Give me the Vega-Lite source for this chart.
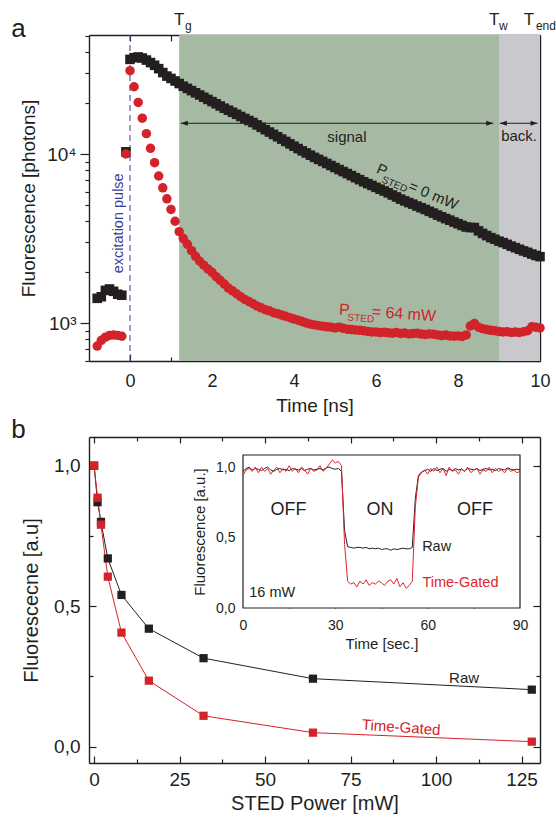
{
"$schema": "https://vega.github.io/schema/vega-lite/v6.json",
"autosize": "none",
"padding": {"left": 89, "top": 35, "right": 16, "bottom": 54},
"background": "white",
"width": 451,
"height": 728,
"config": {
  "font": "Liberation Sans",
  "view": {"stroke": null},
  "text": {"font": "Liberation Sans", "color": "#231f20"},
  "axis": {"grid": false, "domain": false, "domainColor": "#231f20", "domainWidth": 1.4, "tickColor": "#231f20", "tickWidth": 1.2, "labelColor": "#231f20", "titleColor": "#231f20", "labelFont": "Liberation Sans", "titleFont": "Liberation Sans", "titleFontWeight": "normal", "labelFlush": false, "labelOverlap": false, "zindex": 1}
},
"datasets": {
  "blackA": [
    {"t":-0.8,"v":1400},{"t":-0.7,"v":1430},{"t":-0.6,"v":1560},{"t":-0.5,"v":1590},{"t":-0.4,"v":1540},{"t":-0.3,"v":1480},{"t":-0.2,"v":1460},{"t":-0.1,"v":10300},
    {"t":0,"v":36300},{"t":0.1,"v":37150},{"t":0.2,"v":37500},{"t":0.3,"v":36980},{"t":0.4,"v":35980},{"t":0.5,"v":34750},{"t":0.6,"v":33500},{"t":0.7,"v":31990},{"t":0.8,"v":30340},{"t":0.9,"v":28900},
    {"t":1,"v":27990},{"t":1.1,"v":27040},{"t":1.2,"v":26120},{"t":1.3,"v":25180},{"t":1.4,"v":24430},{"t":1.5,"v":23710},{"t":1.6,"v":23010},{"t":1.7,"v":22340},{"t":1.8,"v":21680},{"t":1.9,"v":21040},
    {"t":2,"v":20420},{"t":2.1,"v":19820},{"t":2.2,"v":19230},{"t":2.3,"v":18660},{"t":2.4,"v":18160},{"t":2.5,"v":17660},{"t":2.6,"v":17180},{"t":2.7,"v":16670},{"t":2.8,"v":16220},{"t":2.9,"v":15780},
    {"t":3,"v":15350},{"t":3.1,"v":14860},{"t":3.2,"v":14390},{"t":3.3,"v":13930},{"t":3.4,"v":13490},{"t":3.5,"v":13060},{"t":3.6,"v":12650},{"t":3.7,"v":12250},{"t":3.8,"v":11860},{"t":3.9,"v":11480},
    {"t":4,"v":11120},{"t":4.1,"v":10770},{"t":4.2,"v":10440},{"t":4.3,"v":10140},{"t":4.4,"v":9840},{"t":4.5,"v":9550},{"t":4.6,"v":9290},{"t":4.7,"v":9040},{"t":4.8,"v":8790},{"t":4.9,"v":8550},
    {"t":5,"v":8320},{"t":5.1,"v":8090},{"t":5.2,"v":7870},{"t":5.3,"v":7660},{"t":5.4,"v":7450},{"t":5.5,"v":7240},{"t":5.6,"v":7050},{"t":5.7,"v":6850},{"t":5.8,"v":6680},{"t":5.9,"v":6520},
    {"t":6,"v":6350},{"t":6.1,"v":6190},{"t":6.2,"v":6040},{"t":6.3,"v":5890},{"t":6.4,"v":5720},{"t":6.5,"v":5570},{"t":6.6,"v":5410},{"t":6.7,"v":5280},{"t":6.8,"v":5160},{"t":6.9,"v":5050},
    {"t":7,"v":4920},{"t":7.1,"v":4810},{"t":7.2,"v":4700},{"t":7.3,"v":4580},{"t":7.4,"v":4470},{"t":7.5,"v":4350},{"t":7.6,"v":4250},{"t":7.7,"v":4150},{"t":7.8,"v":4060},{"t":7.9,"v":3960},
    {"t":8,"v":3870},{"t":8.1,"v":3780},{"t":8.2,"v":3700},{"t":8.3,"v":3670},{"t":8.4,"v":3670},{"t":8.5,"v":3510},{"t":8.6,"v":3390},{"t":8.7,"v":3290},{"t":8.8,"v":3200},{"t":8.9,"v":3130},
    {"t":9,"v":3050},{"t":9.1,"v":2990},{"t":9.2,"v":2920},{"t":9.3,"v":2850},{"t":9.4,"v":2790},{"t":9.5,"v":2730},{"t":9.6,"v":2670},{"t":9.7,"v":2620},{"t":9.8,"v":2560},{"t":9.9,"v":2510},{"t":10,"v":2470}
  ],
  "redA": [
    {"t":-0.8,"v":730},{"t":-0.7,"v":790},{"t":-0.6,"v":825},{"t":-0.5,"v":845},{"t":-0.4,"v":850},{"t":-0.3,"v":845},{"t":-0.2,"v":835},{"t":-0.1,"v":10000},
    {"t":0,"v":31100},{"t":0.1,"v":25000},{"t":0.2,"v":20200},{"t":0.3,"v":16300},{"t":0.4,"v":13200},{"t":0.5,"v":10800},{"t":0.6,"v":8890},{"t":0.7,"v":7410},{"t":0.8,"v":6310},{"t":0.9,"v":5430},
    {"t":1,"v":4700},{"t":1.1,"v":4000},{"t":1.2,"v":3470},{"t":1.3,"v":3160},{"t":1.4,"v":2920},{"t":1.5,"v":2680},{"t":1.6,"v":2480},{"t":1.7,"v":2320},{"t":1.8,"v":2200},{"t":1.9,"v":2090},
    {"t":2,"v":1995},{"t":2.1,"v":1880},{"t":2.2,"v":1790},{"t":2.3,"v":1700},{"t":2.4,"v":1610},{"t":2.5,"v":1550},{"t":2.6,"v":1490},{"t":2.7,"v":1430},{"t":2.8,"v":1380},{"t":2.9,"v":1340},
    {"t":3,"v":1300},{"t":3.1,"v":1260},{"t":3.2,"v":1230},{"t":3.3,"v":1200},{"t":3.4,"v":1180},{"t":3.5,"v":1150},{"t":3.6,"v":1135},{"t":3.7,"v":1115},{"t":3.8,"v":1095},{"t":3.9,"v":1075},
    {"t":4,"v":1055},{"t":4.1,"v":1040},{"t":4.2,"v":1020},{"t":4.3,"v":1000},{"t":4.4,"v":985},{"t":4.5,"v":975},{"t":4.6,"v":965},{"t":4.7,"v":958},{"t":4.8,"v":950},{"t":4.9,"v":945},
    {"t":5,"v":935},{"t":5.1,"v":945},{"t":5.2,"v":930},{"t":5.3,"v":920},{"t":5.4,"v":915},{"t":5.5,"v":910},{"t":5.6,"v":905},{"t":5.7,"v":900},{"t":5.8,"v":892},{"t":5.9,"v":885},
    {"t":6,"v":885},{"t":6.1,"v":878},{"t":6.2,"v":882},{"t":6.3,"v":875},{"t":6.4,"v":870},{"t":6.5,"v":878},{"t":6.6,"v":868},{"t":6.7,"v":872},{"t":6.8,"v":862},{"t":6.9,"v":866},
    {"t":7,"v":870},{"t":7.1,"v":860},{"t":7.2,"v":855},{"t":7.3,"v":862},{"t":7.4,"v":858},{"t":7.5,"v":850},{"t":7.6,"v":843},{"t":7.7,"v":848},{"t":7.8,"v":838},{"t":7.9,"v":835},
    {"t":8,"v":838},{"t":8.1,"v":832},{"t":8.2,"v":850},{"t":8.3,"v":960},{"t":8.4,"v":995},{"t":8.5,"v":945},{"t":8.6,"v":925},{"t":8.7,"v":915},{"t":8.8,"v":905},{"t":8.9,"v":900},
    {"t":9,"v":890},{"t":9.1,"v":885},{"t":9.2,"v":888},{"t":9.3,"v":880},{"t":9.4,"v":884},{"t":9.5,"v":880},{"t":9.6,"v":888},{"t":9.7,"v":900},{"t":9.8,"v":950},{"t":9.9,"v":945},{"t":10,"v":935}
  ],
  "mainB": [
    {"p":0,"v":1.0,"s":"Raw"},{"p":1,"v":0.87,"s":"Raw"},{"p":2,"v":0.80,"s":"Raw"},{"p":4,"v":0.67,"s":"Raw"},{"p":8,"v":0.54,"s":"Raw"},{"p":16,"v":0.42,"s":"Raw"},{"p":32,"v":0.315,"s":"Raw"},{"p":64,"v":0.242,"s":"Raw"},{"p":128,"v":0.203,"s":"Raw"},
    {"p":0,"v":1.0,"s":"Time-Gated"},{"p":1,"v":0.886,"s":"Time-Gated"},{"p":2,"v":0.79,"s":"Time-Gated"},{"p":4,"v":0.605,"s":"Time-Gated"},{"p":8,"v":0.406,"s":"Time-Gated"},{"p":16,"v":0.235,"s":"Time-Gated"},{"p":32,"v":0.11,"s":"Time-Gated"},{"p":64,"v":0.05,"s":"Time-Gated"},{"p":128,"v":0.018,"s":"Time-Gated"}
  ],
  "inset": [
    {"t":0,"v":0.97,"s":"Raw"},{"t":1,"v":0.99,"s":"Raw"},{"t":2,"v":1.0,"s":"Raw"},{"t":3,"v":0.98,"s":"Raw"},{"t":4,"v":0.99,"s":"Raw"},{"t":5,"v":0.985,"s":"Raw"},{"t":6,"v":0.975,"s":"Raw"},{"t":7,"v":0.99,"s":"Raw"},{"t":8,"v":1.0,"s":"Raw"},{"t":9,"v":0.98,"s":"Raw"},
    {"t":10,"v":0.97,"s":"Raw"},{"t":11,"v":0.985,"s":"Raw"},{"t":12,"v":0.99,"s":"Raw"},{"t":13,"v":0.98,"s":"Raw"},{"t":14,"v":0.985,"s":"Raw"},{"t":15,"v":0.975,"s":"Raw"},{"t":16,"v":0.99,"s":"Raw"},{"t":17,"v":0.985,"s":"Raw"},{"t":18,"v":0.98,"s":"Raw"},{"t":19,"v":0.99,"s":"Raw"},
    {"t":20,"v":0.975,"s":"Raw"},{"t":21,"v":0.985,"s":"Raw"},{"t":22,"v":0.99,"s":"Raw"},{"t":23,"v":0.98,"s":"Raw"},{"t":24,"v":0.985,"s":"Raw"},{"t":25,"v":0.99,"s":"Raw"},{"t":26,"v":0.98,"s":"Raw"},{"t":27,"v":0.995,"s":"Raw"},{"t":28,"v":1.0,"s":"Raw"},{"t":29,"v":0.99,"s":"Raw"},
    {"t":30,"v":0.985,"s":"Raw"},{"t":31,"v":0.99,"s":"Raw"},{"t":32,"v":0.97,"s":"Raw"},{"t":33,"v":0.55,"s":"Raw"},{"t":34,"v":0.435,"s":"Raw"},{"t":35,"v":0.43,"s":"Raw"},{"t":36,"v":0.425,"s":"Raw"},{"t":37,"v":0.43,"s":"Raw"},{"t":38,"v":0.43,"s":"Raw"},{"t":39,"v":0.425,"s":"Raw"},
    {"t":40,"v":0.43,"s":"Raw"},{"t":41,"v":0.42,"s":"Raw"},{"t":42,"v":0.425,"s":"Raw"},{"t":43,"v":0.42,"s":"Raw"},{"t":44,"v":0.425,"s":"Raw"},{"t":45,"v":0.415,"s":"Raw"},{"t":46,"v":0.42,"s":"Raw"},{"t":47,"v":0.42,"s":"Raw"},{"t":48,"v":0.41,"s":"Raw"},{"t":49,"v":0.42,"s":"Raw"},
    {"t":50,"v":0.415,"s":"Raw"},{"t":51,"v":0.42,"s":"Raw"},{"t":52,"v":0.425,"s":"Raw"},{"t":53,"v":0.42,"s":"Raw"},{"t":54,"v":0.42,"s":"Raw"},{"t":55,"v":0.43,"s":"Raw"},{"t":56,"v":0.78,"s":"Raw"},{"t":57,"v":0.94,"s":"Raw"},{"t":58,"v":0.965,"s":"Raw"},{"t":59,"v":0.975,"s":"Raw"},
    {"t":60,"v":0.985,"s":"Raw"},{"t":61,"v":0.97,"s":"Raw"},{"t":62,"v":0.99,"s":"Raw"},{"t":63,"v":0.975,"s":"Raw"},{"t":64,"v":0.985,"s":"Raw"},{"t":65,"v":0.99,"s":"Raw"},{"t":66,"v":0.97,"s":"Raw"},{"t":67,"v":0.985,"s":"Raw"},{"t":68,"v":0.975,"s":"Raw"},{"t":69,"v":0.99,"s":"Raw"},
    {"t":70,"v":0.98,"s":"Raw"},{"t":71,"v":0.985,"s":"Raw"},{"t":72,"v":0.97,"s":"Raw"},{"t":73,"v":0.99,"s":"Raw"},{"t":74,"v":0.985,"s":"Raw"},{"t":75,"v":0.98,"s":"Raw"},{"t":76,"v":0.99,"s":"Raw"},{"t":77,"v":0.975,"s":"Raw"},{"t":78,"v":0.985,"s":"Raw"},{"t":79,"v":0.99,"s":"Raw"},
    {"t":80,"v":0.98,"s":"Raw"},{"t":81,"v":0.985,"s":"Raw"},{"t":82,"v":0.975,"s":"Raw"},{"t":83,"v":0.99,"s":"Raw"},{"t":84,"v":0.985,"s":"Raw"},{"t":85,"v":0.98,"s":"Raw"},{"t":86,"v":0.995,"s":"Raw"},{"t":87,"v":0.985,"s":"Raw"},{"t":88,"v":0.98,"s":"Raw"},{"t":89,"v":0.985,"s":"Raw"},{"t":90,"v":0.98,"s":"Raw"},
    {"t":0,"v":0.94,"s":"Time-Gated"},{"t":1,"v":0.98,"s":"Time-Gated"},{"t":2,"v":0.99,"s":"Time-Gated"},{"t":3,"v":0.97,"s":"Time-Gated"},{"t":4,"v":1.0,"s":"Time-Gated"},{"t":5,"v":0.96,"s":"Time-Gated"},{"t":6,"v":1.0,"s":"Time-Gated"},{"t":7,"v":0.97,"s":"Time-Gated"},{"t":8,"v":0.99,"s":"Time-Gated"},{"t":9,"v":0.95,"s":"Time-Gated"},
    {"t":10,"v":0.98,"s":"Time-Gated"},{"t":11,"v":1.0,"s":"Time-Gated"},{"t":12,"v":0.96,"s":"Time-Gated"},{"t":13,"v":0.99,"s":"Time-Gated"},{"t":14,"v":0.97,"s":"Time-Gated"},{"t":15,"v":1.01,"s":"Time-Gated"},{"t":16,"v":0.97,"s":"Time-Gated"},{"t":17,"v":0.99,"s":"Time-Gated"},{"t":18,"v":0.96,"s":"Time-Gated"},{"t":19,"v":1.0,"s":"Time-Gated"},
    {"t":20,"v":0.98,"s":"Time-Gated"},{"t":21,"v":0.95,"s":"Time-Gated"},{"t":22,"v":0.99,"s":"Time-Gated"},{"t":23,"v":0.97,"s":"Time-Gated"},{"t":24,"v":0.98,"s":"Time-Gated"},{"t":25,"v":1.01,"s":"Time-Gated"},{"t":26,"v":0.97,"s":"Time-Gated"},{"t":27,"v":0.99,"s":"Time-Gated"},{"t":28,"v":1.02,"s":"Time-Gated"},{"t":29,"v":1.05,"s":"Time-Gated"},
    {"t":30,"v":1.03,"s":"Time-Gated"},{"t":31,"v":1.04,"s":"Time-Gated"},{"t":32,"v":1.01,"s":"Time-Gated"},{"t":33,"v":0.45,"s":"Time-Gated"},{"t":34,"v":0.19,"s":"Time-Gated"},{"t":35,"v":0.17,"s":"Time-Gated"},{"t":36,"v":0.18,"s":"Time-Gated"},{"t":37,"v":0.15,"s":"Time-Gated"},{"t":38,"v":0.19,"s":"Time-Gated"},{"t":39,"v":0.17,"s":"Time-Gated"},
    {"t":40,"v":0.2,"s":"Time-Gated"},{"t":41,"v":0.16,"s":"Time-Gated"},{"t":42,"v":0.18,"s":"Time-Gated"},{"t":43,"v":0.17,"s":"Time-Gated"},{"t":44,"v":0.19,"s":"Time-Gated"},{"t":45,"v":0.18,"s":"Time-Gated"},{"t":46,"v":0.16,"s":"Time-Gated"},{"t":47,"v":0.19,"s":"Time-Gated"},{"t":48,"v":0.2,"s":"Time-Gated"},{"t":49,"v":0.17,"s":"Time-Gated"},
    {"t":50,"v":0.21,"s":"Time-Gated"},{"t":51,"v":0.15,"s":"Time-Gated"},{"t":52,"v":0.18,"s":"Time-Gated"},{"t":53,"v":0.14,"s":"Time-Gated"},{"t":54,"v":0.16,"s":"Time-Gated"},{"t":55,"v":0.19,"s":"Time-Gated"},{"t":56,"v":0.72,"s":"Time-Gated"},{"t":57,"v":0.93,"s":"Time-Gated"},{"t":58,"v":0.96,"s":"Time-Gated"},{"t":59,"v":0.98,"s":"Time-Gated"},
    {"t":60,"v":0.95,"s":"Time-Gated"},{"t":61,"v":0.99,"s":"Time-Gated"},{"t":62,"v":0.97,"s":"Time-Gated"},{"t":63,"v":1.0,"s":"Time-Gated"},{"t":64,"v":0.96,"s":"Time-Gated"},{"t":65,"v":0.99,"s":"Time-Gated"},{"t":66,"v":0.94,"s":"Time-Gated"},{"t":67,"v":1.0,"s":"Time-Gated"},{"t":68,"v":0.97,"s":"Time-Gated"},{"t":69,"v":0.98,"s":"Time-Gated"},
    {"t":70,"v":0.95,"s":"Time-Gated"},{"t":71,"v":0.99,"s":"Time-Gated"},{"t":72,"v":0.97,"s":"Time-Gated"},{"t":73,"v":1.0,"s":"Time-Gated"},{"t":74,"v":0.96,"s":"Time-Gated"},{"t":75,"v":0.98,"s":"Time-Gated"},{"t":76,"v":0.99,"s":"Time-Gated"},{"t":77,"v":0.95,"s":"Time-Gated"},{"t":78,"v":0.98,"s":"Time-Gated"},{"t":79,"v":0.97,"s":"Time-Gated"},
    {"t":80,"v":1.0,"s":"Time-Gated"},{"t":81,"v":0.96,"s":"Time-Gated"},{"t":82,"v":0.99,"s":"Time-Gated"},{"t":83,"v":0.97,"s":"Time-Gated"},{"t":84,"v":0.98,"s":"Time-Gated"},{"t":85,"v":0.96,"s":"Time-Gated"},{"t":86,"v":0.99,"s":"Time-Gated"},{"t":87,"v":0.97,"s":"Time-Gated"},{"t":88,"v":0.98,"s":"Time-Gated"},{"t":89,"v":0.96,"s":"Time-Gated"},{"t":90,"v":0.97,"s":"Time-Gated"}
  ]
},
"resolve": {"scale": {"x": "independent", "y": "independent", "color": "independent", "shape": "independent"}, "axis": {"x": "independent", "y": "independent"}},
"layer": [
    {
      "data": {"values": [{"t0":1.2,"t1":9,"lo":596,"hi":50600,"zone":"signal"},{"t0":9,"t1":10,"lo":596,"hi":50600,"zone":"back"}]},
      "mark": {"type": "rect"},
      "encoding": {
        "x": {"field": "t0", "type": "quantitative", "scale": {"domain": [-1, 10], "nice": false, "zero": false},
              "axis": {"orient": "bottom", "offset": -402, "values": [0,2,4,6,8,10], "ticks": false, "domain": true, "labelPadding": 11, "labelFontSize": 18, "title": "Time [ns]", "titleFontSize": 19, "titleY": 44, "titleBaseline": "middle"}},
        "x2": {"field": "t1"},
        "y": {"field": "lo", "type": "quantitative", "scale": {"type": "log", "domain": [596, 50600], "range": [326, 0], "nice": false}, "axis": null},
        "y2": {"field": "hi"},
        "color": {"field": "zone", "type": "nominal", "scale": {"domain": ["signal","back"], "range": ["#a6baa3","#c9c9cd"]}, "legend": null}
      }
    },
    {
      "data": {"values": [{"t":0,"lo":596,"hi":50600}]},
      "mark": {"type": "rule", "color": "#4b4ba6", "strokeWidth": 1.1, "strokeDash": [6,4]},
      "encoding": {
        "x": {"field": "t", "type": "quantitative", "scale": {"domain": [-1, 10], "nice": false, "zero": false},
              "axis": {"orient": "bottom", "offset": -402, "values": [0,2,4,6,8], "labels": false, "tickSize": -7, "title": null}},
        "y": {"field": "lo", "type": "quantitative", "scale": {"type": "log", "domain": [596, 50600], "range": [326, 0], "nice": false}, "axis": null},
        "y2": {"field": "hi"}
      }
    },
    {
      "data": {"values": [{"t0":1.24,"t1":8.86,"v":15200},{"t0":9.02,"t1":9.94,"v":15200}]},
      "mark": {"type": "rule", "color": "#231f20", "strokeWidth": 1},
      "encoding": {
        "x": {"field": "t0", "type": "quantitative", "scale": {"domain": [-1, 10], "nice": false, "zero": false},
              "axis": {"orient": "bottom", "offset": -402, "values": [1,3,5,7,9], "labels": false, "tickSize": -4, "title": null}},
        "x2": {"field": "t1"},
        "y": {"field": "v", "type": "quantitative", "scale": {"type": "log", "domain": [596, 50600], "range": [326, 0], "nice": false},
              "axis": {"orient": "left", "values": [1000, 10000], "tickSize": 9, "domain": true, "labelPadding": 4, "labelFontSize": 19, "labelExpr": "datum.value == 1000 ? '10³' : '10⁴'", "title": "Fluorescence [photons]", "titleFontSize": 19, "titleX": -61, "titleBaseline": "middle"}}
      }
    },
    {
      "data": {"values": [{"t":1.24,"v":15200,"dir":"L"},{"t":8.86,"v":15200,"dir":"R"},{"t":9.02,"v":15200,"dir":"L"},{"t":9.94,"v":15200,"dir":"R"}]},
      "mark": {"type": "point", "filled": true, "size": 49, "opacity": 1, "color": "#231f20"},
      "encoding": {
        "x": {"field": "t", "type": "quantitative", "scale": {"domain": [-1, 10], "nice": false, "zero": false},
              "axis": {"orient": "top", "values": [0,1,2,3,4,5,6,7,8,9], "labels": false, "tickSize": -6, "domain": true, "title": null}},
        "y": {"field": "v", "type": "quantitative", "scale": {"type": "log", "domain": [596, 50600], "range": [326, 0], "nice": false},
              "axis": {"orient": "left", "values": [600,700,800,900,2000,3000,4000,5000,6000,7000,8000,9000,20000,30000,40000,50000], "labels": false, "tickSize": 4, "title": null}},
        "shape": {"field": "dir", "type": "nominal", "scale": {"domain": ["L","R"], "range": ["M0,0L2,-0.7L2,0.7Z", "M0,0L-2,-0.7L-2,0.7Z"]}, "legend": null}
      }
    },
    {
      "data": {"name": "blackA"},
      "mark": {"type": "point", "shape": "square", "filled": true, "size": 92, "opacity": 1, "color": "#231f20"},
      "encoding": {
        "x": {"field": "t", "type": "quantitative", "scale": {"domain": [-1, 10], "nice": false, "zero": false}, "axis": null},
        "y": {"field": "v", "type": "quantitative", "scale": {"type": "log", "domain": [596, 50600], "range": [326, 0], "nice": false},
              "axis": {"orient": "right", "values": [1000, 10000], "labels": false, "tickSize": -7, "domain": true, "title": null}}
      }
    },
    {
      "data": {"name": "redA"},
      "mark": {"type": "circle", "size": 90, "opacity": 1, "color": "#d2232a"},
      "encoding": {
        "x": {"field": "t", "type": "quantitative", "scale": {"domain": [-1, 10], "nice": false, "zero": false}, "axis": null},
        "y": {"field": "v", "type": "quantitative", "scale": {"type": "log", "domain": [596, 50600], "range": [326, 0], "nice": false},
              "axis": {"orient": "right", "values": [600,700,800,900,2000,3000,4000,5000,6000,7000,8000,9000,20000,30000,40000,50000], "labels": false, "tickSize": -4, "title": null}}
      }
    },
    {
      "data": {"values": [{"t":5.29,"v":12610,"label":"signal"},{"t":9.49,"v":12800,"label":"back."}]},
      "mark": {"type": "text", "fontSize": 15, "baseline": "middle", "align": "center", "color": "#231f20"},
      "encoding": {
        "x": {"field": "t", "type": "quantitative", "scale": {"domain": [-1, 10], "nice": false, "zero": false}, "axis": null},
        "y": {"field": "v", "type": "quantitative", "scale": {"type": "log", "domain": [596, 50600], "range": [326, 0], "nice": false}, "axis": null},
        "text": {"field": "label"}
      }
    },
    {
      "data": {"values": [{"t":-0.28,"v":3890,"label":"excitation pulse"}]},
      "mark": {"type": "text", "fontSize": 14.5, "angle": 270, "baseline": "middle", "align": "center", "color": "#3b3b9a"},
      "encoding": {
        "x": {"field": "t", "type": "quantitative", "scale": {"domain": [-1, 10], "nice": false, "zero": false}, "axis": null},
        "y": {"field": "v", "type": "quantitative", "scale": {"type": "log", "domain": [596, 50600], "range": [326, 0], "nice": false}, "axis": null},
        "text": {"field": "label"}
      }
    },
    {
      "data": {"values": [{"t":1.2,"v":57900,"label":"T"},{"t":8.88,"v":57900,"label":"T"},{"t":9.73,"v":57900,"label":"T"}]},
      "mark": {"type": "text", "fontSize": 17, "baseline": "alphabetic", "align": "center", "color": "#231f20"},
      "encoding": {
        "x": {"field": "t", "type": "quantitative", "scale": {"domain": [-1, 10], "nice": false, "zero": false}, "axis": null},
        "y": {"field": "v", "type": "quantitative", "scale": {"type": "log", "domain": [596, 50600], "range": [326, 0], "nice": false}, "axis": null},
        "text": {"field": "label"}
      }
    },
    {
      "data": {"values": [{"t":1.34,"v":54000,"label":"g"},{"t":9.0,"v":54000,"label":"w"},{"t":9.9,"v":54000,"label":"end"}]},
      "mark": {"type": "text", "fontSize": 12, "baseline": "alphabetic", "align": "left", "color": "#231f20"},
      "encoding": {
        "x": {"field": "t", "type": "quantitative", "scale": {"domain": [-1, 10], "nice": false, "zero": false}, "axis": null},
        "y": {"field": "v", "type": "quantitative", "scale": {"type": "log", "domain": [596, 50600], "range": [326, 0], "nice": false}, "axis": null},
        "text": {"field": "label"}
      }
    },
    {
      "data": {"values": [{"t":6.15,"v":8050,"label":"P"},{"t":7.4,"v":5700,"label":"= 0 mW"}]},
      "mark": {"type": "text", "fontSize": 15, "angle": 23, "baseline": "middle", "align": "center", "color": "#231f20"},
      "encoding": {
        "x": {"field": "t", "type": "quantitative", "scale": {"domain": [-1, 10], "nice": false, "zero": false}, "axis": null},
        "y": {"field": "v", "type": "quantitative", "scale": {"type": "log", "domain": [596, 50600], "range": [326, 0], "nice": false}, "axis": null},
        "text": {"field": "label"}
      }
    },
    {
      "data": {"values": [{"t":6.45,"v":6600,"label":"STED"}]},
      "mark": {"type": "text", "fontSize": 10, "angle": 23, "baseline": "middle", "align": "center", "color": "#231f20"},
      "encoding": {
        "x": {"field": "t", "type": "quantitative", "scale": {"domain": [-1, 10], "nice": false, "zero": false}, "axis": null},
        "y": {"field": "v", "type": "quantitative", "scale": {"type": "log", "domain": [596, 50600], "range": [326, 0], "nice": false}, "axis": null},
        "text": {"field": "label"}
      }
    },
    {
      "data": {"values": [{"t":5.23,"v":1194,"label":"P"},{"t":6.68,"v":1130,"label":"= 64 mW"}]},
      "mark": {"type": "text", "fontSize": 16, "angle": 4, "baseline": "middle", "align": "center", "color": "#d2232a"},
      "encoding": {
        "x": {"field": "t", "type": "quantitative", "scale": {"domain": [-1, 10], "nice": false, "zero": false}, "axis": null},
        "y": {"field": "v", "type": "quantitative", "scale": {"type": "log", "domain": [596, 50600], "range": [326, 0], "nice": false}, "axis": null},
        "text": {"field": "label"}
      }
    },
    {
      "data": {"values": [{"t":5.63,"v":1063,"label":"STED"}]},
      "mark": {"type": "text", "fontSize": 10, "angle": 4, "baseline": "middle", "align": "center", "color": "#d2232a"},
      "encoding": {
        "x": {"field": "t", "type": "quantitative", "scale": {"domain": [-1, 10], "nice": false, "zero": false}, "axis": null},
        "y": {"field": "v", "type": "quantitative", "scale": {"type": "log", "domain": [596, 50600], "range": [326, 0], "nice": false}, "axis": null},
        "text": {"field": "label"}
      }
    },
    {
      "data": {"values": [{"t":-2.72,"v":49200,"label":"a"}]},
      "mark": {"type": "text", "fontSize": 26, "baseline": "alphabetic", "align": "center", "color": "#231f20"},
      "encoding": {
        "x": {"field": "t", "type": "quantitative", "scale": {"domain": [-1, 10], "nice": false, "zero": false}, "axis": null},
        "y": {"field": "v", "type": "quantitative", "scale": {"type": "log", "domain": [596, 50600], "range": [326, 0], "nice": false}, "axis": null},
        "text": {"field": "label"}
      }
    },
    {
      "data": {"name": "mainB"},
      "mark": {"type": "line", "strokeWidth": 1},
      "encoding": {
        "x": {"field": "p", "type": "quantitative", "scale": {"domain": [-1.5, 130.4], "nice": false, "zero": false},
              "axis": {"orient": "bottom", "values": [0,25,50,75,100,125], "ticks": false, "domain": true, "labelPadding": 7, "labelFontSize": 19, "title": "STED Power [mW]", "titleFontSize": 20, "titleY": 40, "titleBaseline": "middle"}},
        "y": {"field": "v", "type": "quantitative", "scale": {"domain": [-0.058, 1.102], "range": [728, 402], "nice": false, "zero": false},
              "axis": {"orient": "left", "values": [0, 0.5, 1], "ticks": false, "domain": true, "labelPadding": 9, "labelFontSize": 19, "labelExpr": "replace(format(datum.value, '.1f'), '.', ',')", "title": "Fluorescecne [a.u]", "titleFontSize": 20, "titleX": -58, "titleBaseline": "middle"}},
        "color": {"field": "s", "type": "nominal", "scale": {"domain": ["Raw","Time-Gated"], "range": ["#231f20","#d2232a"]}, "legend": null}
      }
    },
    {
      "data": {"name": "mainB"},
      "mark": {"type": "point", "shape": "square", "filled": true, "size": 68, "opacity": 1},
      "encoding": {
        "x": {"field": "p", "type": "quantitative", "scale": {"domain": [-1.5, 130.4], "nice": false, "zero": false},
              "axis": {"orient": "bottom", "values": [0,25,50,75,100,125], "labels": false, "tickSize": -7, "title": null}},
        "y": {"field": "v", "type": "quantitative", "scale": {"domain": [-0.058, 1.102], "range": [728, 402], "nice": false, "zero": false},
              "axis": {"orient": "left", "values": [0, 0.5, 1], "labels": false, "tickSize": -7, "title": null}},
        "color": {"field": "s", "type": "nominal", "scale": {"domain": ["Raw","Time-Gated"], "range": ["#231f20","#d2232a"]}, "legend": null}
      }
    },
    {
      "data": {"values": [{"p":108.2,"v":0.2456,"label":"Raw"}]},
      "mark": {"type": "text", "fontSize": 15, "baseline": "middle", "align": "center", "color": "#231f20"},
      "encoding": {
        "x": {"field": "p", "type": "quantitative", "scale": {"domain": [-1.5, 130.4], "nice": false, "zero": false},
              "axis": {"orient": "bottom", "values": [12.5,37.5,62.5,87.5,112.5], "labels": false, "tickSize": -4, "title": null}},
        "y": {"field": "v", "type": "quantitative", "scale": {"domain": [-0.058, 1.102], "range": [728, 402], "nice": false, "zero": false},
              "axis": {"orient": "left", "values": [0.25, 0.75], "labels": false, "tickSize": -4, "title": null}},
        "text": {"field": "label"}
      }
    },
    {
      "data": {"values": [{"p":89.8,"v":0.069,"label":"Time-Gated"}]},
      "mark": {"type": "text", "fontSize": 15, "angle": 4, "baseline": "middle", "align": "center", "color": "#d2232a"},
      "encoding": {
        "x": {"field": "p", "type": "quantitative", "scale": {"domain": [-1.5, 130.4], "nice": false, "zero": false},
              "axis": {"orient": "top", "offset": -402, "values": [0,25,50,75,100,125], "labels": false, "tickSize": -6, "domain": true, "title": null}},
        "y": {"field": "v", "type": "quantitative", "scale": {"domain": [-0.058, 1.102], "range": [728, 402], "nice": false, "zero": false},
              "axis": {"orient": "right", "values": [0, 0.5, 1], "labels": false, "tickSize": -7, "domain": true, "title": null}},
        "text": {"field": "label"}
      }
    },
    {
      "data": {"values": [{"p":-22.1,"v":1.098,"label":"b"}]},
      "mark": {"type": "text", "fontSize": 26, "baseline": "alphabetic", "align": "center", "color": "#231f20"},
      "encoding": {
        "x": {"field": "p", "type": "quantitative", "scale": {"domain": [-1.5, 130.4], "nice": false, "zero": false},
              "axis": {"orient": "top", "offset": -402, "values": [12.5,37.5,62.5,87.5,112.5], "labels": false, "tickSize": -4, "title": null}},
        "y": {"field": "v", "type": "quantitative", "scale": {"domain": [-0.058, 1.102], "range": [728, 402], "nice": false, "zero": false},
              "axis": {"orient": "right", "values": [0.25, 0.75], "labels": false, "tickSize": -4, "title": null}},
        "text": {"field": "label"}
      }
    },
    {
      "data": {"values": [{"a":0,"b":90,"c":0,"d":1.086}]},
      "mark": {"type": "rect", "fill": "white", "stroke": "#231f20", "strokeWidth": 1.2},
      "encoding": {
        "x": {"field": "a", "type": "quantitative", "scale": {"domain": [0, 90], "range": [154, 431], "nice": false, "zero": false},
              "axis": {"orient": "bottom", "offset": -155, "values": [0,30,60,90], "ticks": false, "labelPadding": 10, "labelFontSize": 14, "title": "Time [sec.]", "titleFontSize": 15, "titleY": 35, "titleBaseline": "middle"}},
        "x2": {"field": "b"},
        "y": {"field": "c", "type": "quantitative", "scale": {"domain": [0, 1.086], "range": [573, 420], "nice": false, "zero": false},
              "axis": {"orient": "left", "offset": -154, "values": [0, 0.5, 1], "ticks": false, "labelPadding": 8, "labelFontSize": 14, "labelExpr": "replace(format(datum.value, '.1f'), '.', ',')", "title": "Fluorescence [a.u.]", "titleFontSize": 15, "titleX": -44, "titleBaseline": "middle"}},
        "y2": {"field": "d"}
      }
    },
    {
      "data": {"name": "inset"},
      "mark": {"type": "line", "strokeWidth": 1},
      "encoding": {
        "x": {"field": "t", "type": "quantitative", "scale": {"domain": [0, 90], "range": [154, 431], "nice": false, "zero": false},
              "axis": {"orient": "bottom", "offset": -155, "values": [15,30,45,60,75], "labels": false, "tickSize": -4, "title": null}},
        "y": {"field": "v", "type": "quantitative", "scale": {"domain": [0, 1.086], "range": [573, 420], "nice": false, "zero": false},
              "axis": {"orient": "left", "offset": -154, "values": [0.25, 0.5, 0.75, 1], "labels": false, "tickSize": -4, "title": null}},
        "color": {"field": "s", "type": "nominal", "scale": {"domain": ["Raw","Time-Gated"], "range": ["#231f20","#e0262d"]}, "legend": null}
      }
    },
    {
      "data": {"values": [{"t":14.8,"v":0.696,"label":"OFF"},{"t":44.5,"v":0.696,"label":"ON"},{"t":75.4,"v":0.696,"label":"OFF"}]},
      "mark": {"type": "text", "fontSize": 18, "baseline": "middle", "align": "center", "color": "#231f20"},
      "encoding": {
        "x": {"field": "t", "type": "quantitative", "scale": {"domain": [0, 90], "range": [154, 431], "nice": false, "zero": false}, "axis": null},
        "y": {"field": "v", "type": "quantitative", "scale": {"domain": [0, 1.086], "range": [573, 420], "nice": false, "zero": false}, "axis": null},
        "text": {"field": "label"}
      }
    },
    {
      "data": {"values": [{"t":58.2,"v":0.435,"label":"Raw"},{"t":2.05,"v":0.104,"label":"16 mW"}]},
      "mark": {"type": "text", "fontSize": 14.5, "baseline": "middle", "align": "left", "color": "#231f20"},
      "encoding": {
        "x": {"field": "t", "type": "quantitative", "scale": {"domain": [0, 90], "range": [154, 431], "nice": false, "zero": false}, "axis": null},
        "y": {"field": "v", "type": "quantitative", "scale": {"domain": [0, 1.086], "range": [573, 420], "nice": false, "zero": false}, "axis": null},
        "text": {"field": "label"}
      }
    },
    {
      "data": {"values": [{"t":58.3,"v":0.175,"label":"Time-Gated"}]},
      "mark": {"type": "text", "fontSize": 14.5, "baseline": "middle", "align": "left", "color": "#e0262d"},
      "encoding": {
        "x": {"field": "t", "type": "quantitative", "scale": {"domain": [0, 90], "range": [154, 431], "nice": false, "zero": false}, "axis": null},
        "y": {"field": "v", "type": "quantitative", "scale": {"domain": [0, 1.086], "range": [573, 420], "nice": false, "zero": false}, "axis": null},
        "text": {"field": "label"}
      }
    }
]
}
